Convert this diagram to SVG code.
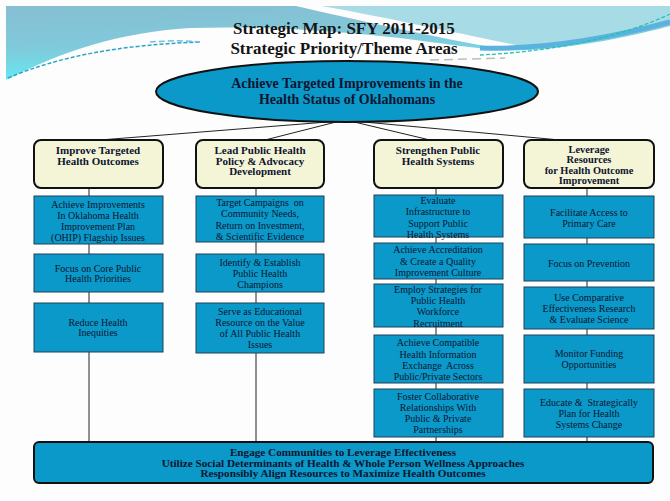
<svg xmlns="http://www.w3.org/2000/svg" width="670" height="501" viewBox="0 0 670 501">
<defs>
<linearGradient id="sky" x1="0" y1="0" x2="0.25" y2="1">
<stop offset="0" stop-color="#86bed2"/>
<stop offset="0.55" stop-color="#80cadb"/>
<stop offset="1" stop-color="#62ecf2"/>
</linearGradient>
<style>
.t{font-family:"Liberation Serif","DejaVu Serif",serif;fill:#0d1530;text-anchor:middle}
.title{font-size:17px;font-weight:bold;fill:#141414}
.ell{font-size:14px;font-weight:bold}
.hdr{font-size:11px;font-weight:bold}
.hdr4{font-size:10.4px;font-weight:bold}
.bx{font-size:10px}
.bot{font-size:11.2px;font-weight:bold}
.hbox{fill:#f4f4d6;stroke:#111;stroke-width:2}
.bbox{fill:#0a99c9;stroke:#23405a;stroke-width:1}
.con{stroke:#222;stroke-width:1;fill:none}
</style>
</defs>
<rect x="0" y="0" width="670" height="501" fill="#fdfdfd"/>
<g id="background">
<path d="M6,6 H670 V26 C640,34 590,46 530,50 C490,52 450,44 400,38 C330,30 260,26 190,28 C120,32 60,52 6,80 Z" fill="url(#sky)"/>
<path d="M322,6 H670 V22 C620,34 570,44 520,46 C450,32 380,17 322,6 Z" fill="#a7dbe6"/>
<path d="M296,6 L322,6 C390,18 455,33 522,46 L500,49 C435,37 365,22 296,6 Z" fill="#fdfdfd"/>
<path d="M480,48 C540,50 610,38 670,22" stroke="#5ab2de" stroke-width="5" fill="none"/>
<path d="M8,78 C60,56 120,45 200,42" stroke="#27a5c4" stroke-width="1.5" stroke-dasharray="4 2" fill="none"/>
<path d="M150,42 C165,41 180,40 200,42" stroke="#6cc0e0" stroke-width="1.5" stroke-dasharray="6 3" fill="none"/>
<path d="M480,55 C545,52 615,40 670,14" stroke="#25c2b0" stroke-width="1.3" stroke-dasharray="4 2" fill="none"/>
<path d="M430,60 L505,58" stroke="#bdbdbd" stroke-width="1.5" stroke-dasharray="9 5" fill="none"/>
</g>
<g id="title">
<text class="t title" x="344" y="34">Strategic Map: SFY 2011-2015</text>
<text class="t title" x="344" y="54">Strategic Priority/Theme Areas</text>
</g>
<g id="connectors">
<line class="con" x1="340" y1="121" x2="100" y2="140"/>
<line class="con" x1="340" y1="121" x2="265" y2="140"/>
<line class="con" x1="350" y1="121" x2="430" y2="140"/>
<line class="con" x1="353" y1="121" x2="560" y2="140"/>
<line class="con" x1="89" y1="188" x2="89" y2="442"/>
<line class="con" x1="256" y1="188" x2="256" y2="442" stroke="#666"/>
<line class="con" x1="436" y1="188" x2="436" y2="442"/>
<line class="con" x1="587" y1="188" x2="587" y2="442"/>
</g>
<g id="goal">
<ellipse cx="347" cy="91.5" rx="191" ry="30.5" fill="#0a99c9" stroke="#111" stroke-width="2"/>
<text class="t ell" x="347" y="88">Achieve Targeted Improvements in the</text>
<text class="t ell" x="347" y="104">Health Status of Oklahomans</text>
</g>
<g id="h1">
<rect class="hbox" x="34" y="140" width="129" height="48" rx="7"/>
<text class="t hdr" x="98" y="154">Improve Targeted</text>
<text class="t hdr" x="98" y="164.5">Health Outcomes</text>
</g>
<g id="h2">
<rect class="hbox" x="196" y="140" width="128" height="48" rx="7"/>
<text class="t hdr" x="260" y="154">Lead Public Health</text>
<text class="t hdr" x="260" y="164.5">Policy &amp; Advocacy</text>
<text class="t hdr" x="260" y="175">Development</text>
</g>
<g id="h3">
<rect class="hbox" x="374" y="140" width="129" height="48" rx="7"/>
<text class="t hdr" x="438" y="154">Strengthen Public</text>
<text class="t hdr" x="438" y="165">Health Systems</text>
</g>
<g id="h4">
<rect class="hbox" x="524" y="140" width="130" height="48" rx="7"/>
<text class="t hdr4" x="589" y="152.5">Leverage</text>
<text class="t hdr4" x="589" y="163">Resources</text>
<text class="t hdr4" x="589" y="173.5">for Health Outcome</text>
<text class="t hdr4" x="589" y="184">Improvement</text>
</g>
<g id="c1a">
<rect class="bbox" x="34" y="196" width="129" height="48"/>
<text class="t bx" x="98" y="207.5">Achieve Improvements</text>
<text class="t bx" x="98" y="218.5">In Oklahoma Health</text>
<text class="t bx" x="98" y="229.5">Improvement Plan</text>
<text class="t bx" x="98" y="240.5">(OHIP) Flagship Issues</text>
</g>
<g id="c1b">
<rect class="bbox" x="34" y="254" width="129" height="38"/>
<text class="t bx" x="98" y="271.5">Focus on Core Public</text>
<text class="t bx" x="98" y="282">Health Priorities</text>
</g>
<g id="c1c">
<rect class="bbox" x="34" y="303" width="129" height="49"/>
<text class="t bx" x="98" y="325.5">Reduce Health</text>
<text class="t bx" x="98" y="336">Inequities</text>
</g>
<g id="c2a">
<rect class="bbox" x="196" y="196" width="128" height="46"/>
<text class="t bx" x="260" y="205.5" xml:space="preserve">Target Campaigns  on</text>
<text class="t bx" x="260" y="217">Community Needs,</text>
<text class="t bx" x="260" y="228.5">Return on Investment,</text>
<text class="t bx" x="260" y="239.5">&amp; Scientific Evidence</text>
</g>
<g id="c2b">
<rect class="bbox" x="196" y="254" width="128" height="38"/>
<text class="t bx" x="260" y="265.5">Identify &amp; Establish</text>
<text class="t bx" x="260" y="276.5">Public Health</text>
<text class="t bx" x="260" y="287.5">Champions</text>
</g>
<g id="c2c">
<rect class="bbox" x="196" y="303" width="128" height="50"/>
<text class="t bx" x="260" y="314.5">Serve as Educational</text>
<text class="t bx" x="260" y="326">Resource on the Value</text>
<text class="t bx" x="260" y="337">of All Public Health</text>
<text class="t bx" x="260" y="348">Issues</text>
</g>
<g id="c3a">
<rect class="bbox" x="374" y="195" width="129" height="42"/>
<text class="t bx" x="438" y="203.5">Evaluate</text>
<text class="t bx" x="438" y="214.5">Infrastructure to</text>
<text class="t bx" x="438" y="226.5">Support Public</text>
<text class="t bx" x="438" y="237.5">Health Systems</text>
</g>
<g id="c3b">
<rect class="bbox" x="374" y="243" width="129" height="36"/>
<text class="t bx" x="438" y="252.5">Achieve Accreditation</text>
<text class="t bx" x="438" y="264.5">&amp; Create a Quality</text>
<text class="t bx" x="438" y="276">Improvement Culture</text>
</g>
<g id="c3c">
<rect class="bbox" x="374" y="284" width="129" height="43"/>
<text class="t bx" x="438" y="292.5">Employ Strategies for</text>
<text class="t bx" x="438" y="303.5">Public Health</text>
<text class="t bx" x="438" y="314.5">Workforce</text>
<text class="t bx" x="438" y="326.5">Recruitment</text>
</g>
<g id="c3d">
<rect class="bbox" x="374" y="335" width="129" height="48"/>
<text class="t bx" x="438" y="345.5">Achieve Compatible</text>
<text class="t bx" x="438" y="357.5">Health Information</text>
<text class="t bx" x="438" y="368.5" xml:space="preserve">Exchange  Across</text>
<text class="t bx" x="438" y="379.5">Public/Private Sectors</text>
</g>
<g id="c3e">
<rect class="bbox" x="374" y="389" width="129" height="48"/>
<text class="t bx" x="438" y="399.5">Foster Collaborative</text>
<text class="t bx" x="438" y="410.5">Relationships With</text>
<text class="t bx" x="438" y="421.5">Public &amp; Private</text>
<text class="t bx" x="438" y="432.5">Partnerships</text>
</g>
<g id="c4a">
<rect class="bbox" x="524" y="196" width="130" height="42"/>
<text class="t bx" x="589" y="215.5">Facilitate Access to</text>
<text class="t bx" x="589" y="226.5">Primary Care</text>
</g>
<g id="c4b">
<rect class="bbox" x="524" y="244" width="130" height="37"/>
<text class="t bx" x="589" y="266.5">Focus on Prevention</text>
</g>
<g id="c4c">
<rect class="bbox" x="524" y="287" width="130" height="42"/>
<text class="t bx" x="589" y="300.5">Use Comparative</text>
<text class="t bx" x="589" y="311.5">Effectiveness Research</text>
<text class="t bx" x="589" y="322.5">&amp; Evaluate Science</text>
</g>
<g id="c4d">
<rect class="bbox" x="524" y="335" width="130" height="48"/>
<text class="t bx" x="589" y="356.5">Monitor Funding</text>
<text class="t bx" x="589" y="367.5">Opportunities</text>
</g>
<g id="c4e">
<rect class="bbox" x="524" y="389" width="130" height="48"/>
<text class="t bx" x="589" y="405.5" xml:space="preserve">Educate &amp;  Strategically</text>
<text class="t bx" x="589" y="416.5">Plan for Health</text>
<text class="t bx" x="589" y="427.5">Systems Change</text>
</g>
<g id="foundation">
<rect x="34" y="442" width="619" height="41" rx="5" fill="#0a99c9" stroke="#111" stroke-width="2"/>
<text class="t bot" x="343" y="455.5">Engage Communities to Leverage Effectiveness</text>
<text class="t bot" x="343" y="466.5">Utilize Social Determinants of Health &amp; Whole Person Wellness Approaches</text>
<text class="t bot" x="343" y="477">Responsibly Align Resources to Maximize Health Outcomes</text>
</g>
</svg>
